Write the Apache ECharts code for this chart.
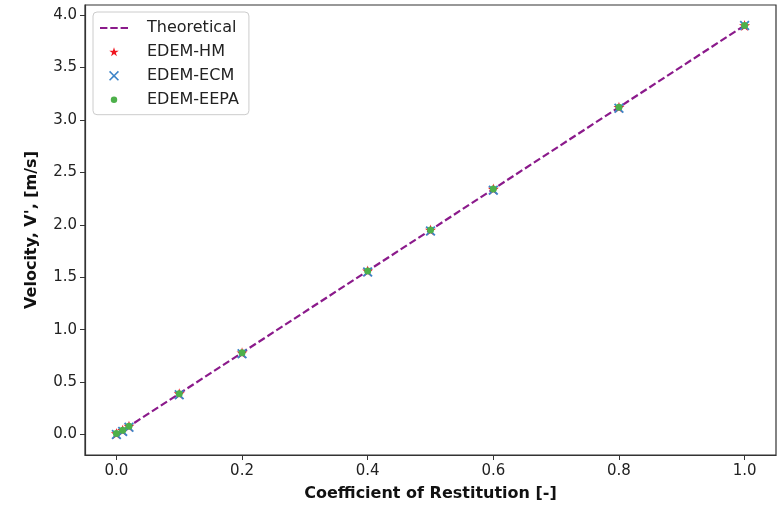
<!DOCTYPE html>
<html>
<head>
<meta charset="utf-8">
<script src="https://cdn.jsdelivr.net/npm/echarts@6/dist/echarts.min.js"></script>
<style>
  html, body { margin: 0; padding: 0; background: #fff; }
  #chart { width: 780px; height: 507px; }
</style>
</head>
<body>
<div id="chart"></div>
<script>
// Coefficient of restitution values tested
const restitution = [0, 0.01, 0.02, 0.1, 0.2, 0.4, 0.5, 0.6, 0.8, 1.0];
// Rebound velocity, V' [m/s]
const theoretical = [0, 0.039, 0.078, 0.39, 0.78, 1.56, 1.95, 2.34, 3.12, 3.9];
const edemHM      = [0.01, 0.04, 0.08, 0.39, 0.78, 1.56, 1.95, 2.34, 3.12, 3.9];
const edemECM     = [0.0, 0.03, 0.07, 0.38, 0.77, 1.55, 1.94, 2.33, 3.11, 3.9];
const edemEEPA    = [0.01, 0.04, 0.08, 0.39, 0.78, 1.56, 1.95, 2.34, 3.12, 3.9];
// Axis tick labels
const xTicks = [0.0, 0.2, 0.4, 0.6, 0.8, 1.0];
const yTicks = [0.0, 0.5, 1.0, 1.5, 2.0, 2.5, 3.0, 3.5, 4.0];

const pairs = ys => restitution.map((x, i) => [x, ys[i]]);

// Marker shapes
const STAR = 'path://M50,0 L61.2,34.5 L97.6,34.5 L68.2,55.9 L79.4,90.5 L50,69.1 L20.6,90.5 L31.8,55.9 L2.4,34.5 L38.8,34.5 Z';
const CROSS = 'path://M0,1.3 L1.3,0 L5,3.7 L8.7,0 L10,1.3 L6.3,5 L10,8.7 L8.7,10 L5,6.3 L1.3,10 L0,8.7 L3.7,5 Z';
// Legend icons: shapes padded by empty sub-paths so they stay small inside the icon box
const STAR_ICON = 'path://M-20,-23 L-20,-23 M120,117 L120,117 M50,0 L61.2,34.5 L97.6,34.5 L68.2,55.9 L79.4,90.5 L50,69.1 L20.6,90.5 L31.8,55.9 L2.4,34.5 L38.8,34.5 Z';
const CROSS_ICON = 'path://M-2,-2 L-2,-2 M12,12 L12,12 M0,1.1 L1.1,0 L5,3.9 L8.9,0 L10,1.1 L6.1,5 L10,8.9 L8.9,10 L5,6.1 L1.1,10 L0,8.9 L3.9,5 Z';
const DOT_ICON = 'path://M-5,-5 L-5,-5 M5,5 L5,5 M-2.3,0 A2.3,2.3 0 1,0 2.3,0 A2.3,2.3 0 1,0 -2.3,0 Z';
const DASHES = 'path://M0,0h7.4v2.2h-7.4z M10.3,0h7.4v2.2h-7.4z M20.6,0h7.4v2.2h-7.4z';

const font = 'DejaVu Sans';
const chart = echarts.init(document.getElementById('chart'), null, { renderer: 'canvas' });

chart.setOption({
  animation: false,
  backgroundColor: '#fff',
  grid: {
    left: 85, right: 4, top: 5, bottom: 52,
    outerBoundsMode: 'none', containLabel: false,
    show: true, borderColor: '#333', borderWidth: 1.2, backgroundColor: 'transparent'
  },
  legend: {
    left: 93, top: 12,
    orient: 'vertical',
    backgroundColor: 'rgba(255,255,255,0.85)',
    borderColor: '#ccc', borderWidth: 1, borderRadius: 4,
    padding: [8, 10, 7, 7],
    itemWidth: 28, itemHeight: 14, itemGap: 7.9,
    symbolKeepAspect: true,
    textStyle: { fontFamily: font, fontSize: 16, color: '#222', padding: [0, 0, 0, 14] },
    data: [
      { name: 'Theoretical', icon: DASHES, itemStyle: { color: '#8b1a8b' } },
      { name: 'EDEM-HM', icon: STAR_ICON, itemStyle: { color: '#f0141e' } },
      { name: 'EDEM-ECM', icon: CROSS_ICON, itemStyle: { color: '#3d84c8' } },
      { name: 'EDEM-EEPA', icon: DOT_ICON, itemStyle: { color: '#4db04a' } }
    ]
  },
  xAxis: {
    type: 'value', min: -0.05, max: 1.05,
    name: 'Coefficient of Restitution [-]',
    nameLocation: 'middle', nameGap: 31,
    nameTextStyle: { fontFamily: font, fontSize: 16, fontWeight: 'bold', color: '#111' },
    axisLine: { show: true, onZero: false, lineStyle: { color: '#333', width: 1.2 } },
    axisTick: { show: true, length: 5, inside: false, customValues: xTicks, lineStyle: { color: '#333' } },
    axisLabel: {
      customValues: xTicks, margin: 9,
      fontFamily: font, fontSize: 15, color: '#222',
      formatter: v => v.toFixed(1)
    },
    splitLine: { show: false }
  },
  yAxis: {
    type: 'value', min: -0.195, max: 4.095,
    name: "Velocity, V', [m/s]",
    nameLocation: 'middle', nameGap: 45, nameRotate: 90,
    nameTextStyle: { fontFamily: font, fontSize: 16, fontWeight: 'bold', color: '#111' },
    axisLine: { show: true, onZero: false, lineStyle: { color: '#333', width: 1.2 } },
    axisTick: { show: true, length: 5, inside: false, customValues: yTicks, lineStyle: { color: '#333' } },
    axisLabel: {
      customValues: yTicks, margin: 8,
      fontFamily: font, fontSize: 15, color: '#222',
      formatter: v => v.toFixed(1)
    },
    splitLine: { show: false }
  },
  series: [
    {
      name: 'Theoretical', type: 'line', data: pairs(theoretical),
      showSymbol: false, symbol: 'none',
      lineStyle: { color: '#8b1a8b', width: 2.2, type: [7.4, 3.2] },
      itemStyle: { color: '#8b1a8b' }, z: 2
    },
    {
      name: 'EDEM-HM', type: 'scatter', data: pairs(edemHM),
      symbol: STAR, symbolSize: 11,
      itemStyle: { color: '#f0141e', opacity: 1 }, z: 3
    },
    {
      name: 'EDEM-ECM', type: 'scatter', data: pairs(edemECM),
      symbol: CROSS, symbolSize: 10,
      itemStyle: { color: '#3d84c8', opacity: 1 }, z: 4
    },
    {
      name: 'EDEM-EEPA', type: 'scatter', data: pairs(edemEEPA),
      symbol: 'circle', symbolSize: 7,
      itemStyle: { color: '#4db04a', opacity: 1 }, z: 5
    }
  ]
});
</script>
</body>
</html>
